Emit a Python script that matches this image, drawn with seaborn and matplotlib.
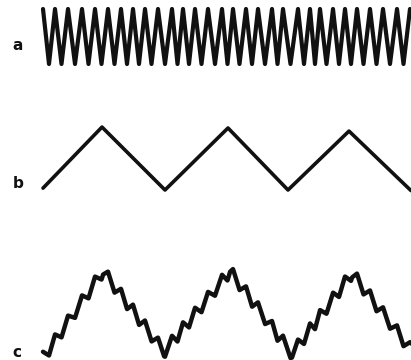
import numpy as np
import seaborn as sns
import matplotlib.pyplot as plt

# trace a: fast triangle wave, times of its peaks (troughs sit halfway between)
A_PEAKS = [0, 12, 25, 39, 52, 65, 78, 90, 102, 115, 129, 140, 152, 165, 179,
           190, 203, 215, 229, 240, 255, 267, 277, 290, 302, 314, 327, 340, 354, 367]

# trace b: slow triangle wave, corner times and levels
B_T = [0, 59, 122, 185, 245, 306, 368]
B_Y = [-0.94, 1.03, -1.0, 1.0, -1.0, 0.9, -1.02]

# trace c: slow part corners, plus the fast ripple from a
C_T = [0, 60, 121, 187, 249, 309, 368]
C_Y = [-1.12, 0.97, -0.97, 0.97, -1.02, 0.92, -0.92]
C_RIPPLE = 0.15

LABELS = ["a", "b", "c"]


def triangle_vertices(peaks):
    t, y = [], []
    for i, p in enumerate(peaks):
        t.append(p)
        y.append(1.0)
        if i < len(peaks) - 1:
            t.append((p + peaks[i + 1]) / 2)
            y.append(-1.0)
    return np.array(t, float), np.array(y)


sns.set_style("white")
fig = plt.figure(figsize=(4.11, 3.6), dpi=100)

a_t, a_y = triangle_vertices(A_PEAKS)

t_dense = np.linspace(0, 368, 3000)
c_vals = np.interp(t_dense, C_T, C_Y) + C_RIPPLE * np.interp(t_dense, a_t, a_y)

# rows: (data t, data y, axes bottom, axes height, line width)
rows = [
    (a_t, a_y, 1 - 64 / 360, 55 / 360, 3.0),
    (np.array(B_T, float), np.array(B_Y), 1 - 190 / 360, 62 / 360, 2.6),
    (t_dense, c_vals, 1 - 353 / 360, 83 / 360, 3.2),
]

for t, y, bottom, height, lw in rows:
    ax = fig.add_axes([0, bottom, 1, height])
    sns.lineplot(x=t, y=y, ax=ax, color="#111111", lw=lw, estimator=None,
                 sort=False, clip_on=False)
    ax.set_xlim(-43, 368)
    ax.set_ylim(-1, 1)
    ax.axis("off")

# panel letters
for lab, (px, py) in zip(LABELS, [(18, 50), (18, 188), (17, 357)]):
    fig.text(px / 411, 1 - py / 360, lab, ha="center", va="baseline",
             fontsize=11, fontweight="bold", color="#111111")

fig.savefig("out.png", dpi=100)
